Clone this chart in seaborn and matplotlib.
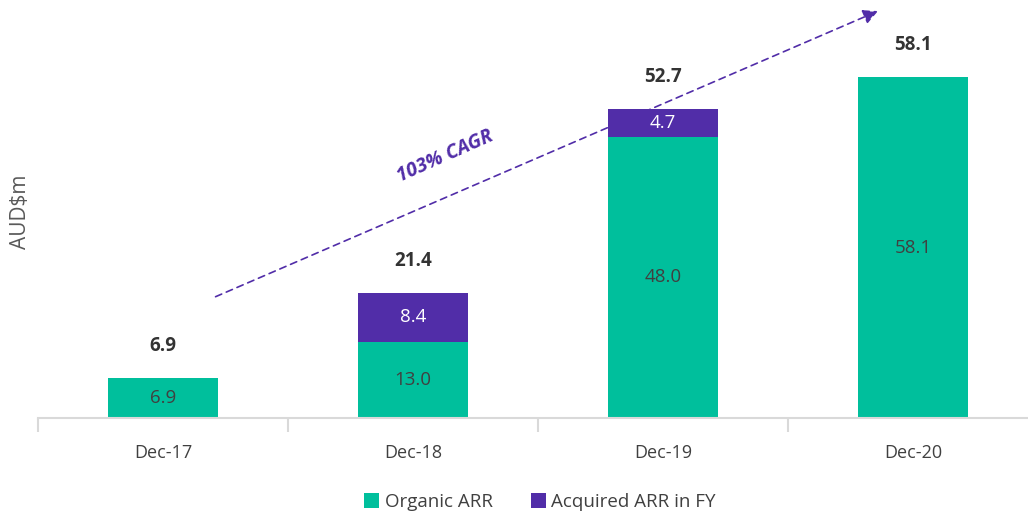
import matplotlib
matplotlib.use("Agg")
import matplotlib.pyplot as plt
import seaborn as sns
import pandas as pd

categories = ["Dec-17", "Dec-18", "Dec-19", "Dec-20"]
organic = [6.9, 13.0, 48.0, 58.1]
acquired = [0.0, 8.4, 4.7, 0.0]
totals = [6.9, 21.4, 52.7, 58.1]
cagr_label = "103% CAGR"
arrow_start = (0.2, 20.5)
arrow_end = (2.87, 69.6)

TEAL = "#00BF9C"
PURPLE = "#512DA8"
DARK = "#404040"

sns.set_theme(style="white")
plt.rcParams["font.family"] = ["Open Sans", "DejaVu Sans"]

fig = plt.figure(figsize=(10.28, 5.19), dpi=100)
ax = fig.add_axes([38/1028, 101/519, 1000/1028, 418/519])

df = pd.DataFrame({"cat": categories, "organic": organic, "acquired": acquired})
sns.barplot(data=df, x="cat", y="organic", color=TEAL, width=0.44, ax=ax,
            saturation=1, label="Organic ARR", linewidth=0)
sns.barplot(data=df, x="cat", y="acquired", color=PURPLE, width=0.44, ax=ax,
            saturation=1, bottom=df["organic"], label="Acquired ARR in FY", linewidth=0)
handles, labels = ax.get_legend_handles_labels()
if ax.get_legend() is not None:
    ax.get_legend().remove()

ax.set_xlim(-0.5, 3.5)
ax.set_ylim(0, 71.3)
ax.set_xlabel("")
ax.set_ylabel("")
ax.set_yticks([])
for s in ["top", "right", "left"]:
    ax.spines[s].set_visible(False)
ax.spines["bottom"].set_color("#D9D9D9")
ax.spines["bottom"].set_linewidth(1.5)
ax.set_xticks(range(len(categories)))
ax.set_xticklabels(categories, fontsize=13, color=DARK)
ax.tick_params(axis="x", which="major", length=0, pad=19)
ax.set_xticks([-0.5, 0.5, 1.5, 2.5], minor=True)
ax.tick_params(axis="x", which="minor", bottom=True, length=10, width=1.5,
               color="#D9D9D9", direction="out")

for i, (o, a, t) in enumerate(zip(organic, acquired, totals)):
    ax.text(i, o / 2, f"{o:.1f}", ha="center", va="center", fontsize=13.5, color=DARK)
    if a > 0:
        ax.text(i, o + a / 2, f"{a:.1f}", ha="center", va="center", fontsize=13.5, color="white")
    ax.annotate(f"{t:.1f}", (i, t), xytext=(0, 23), textcoords="offset points",
                ha="center", va="center", fontsize=13.5, fontweight="bold", color="#333333")

ax.annotate("", xy=arrow_end, xytext=arrow_start,
            arrowprops=dict(arrowstyle="-|>", linestyle=(0, (4, 3)), color=PURPLE,
                            lw=1.2, mutation_scale=22), zorder=5)
ax.text(1.13, 44.6, cagr_label, rotation=24, ha="center", va="center",
        fontsize=14, fontweight="bold", fontstyle="italic", color=PURPLE)

fig.text(20/1028, 1 - 212/519, "AUD$m", rotation=90, ha="center", va="center",
         fontsize=15, color="#595959")

fig.legend(handles, labels, loc="center", bbox_to_anchor=(540/1028, 1 - 502/519),
           ncol=2, frameon=False, fontsize=13.5, handlelength=0.8, handleheight=0.9,
           columnspacing=2.0, handletextpad=0.3, labelcolor=DARK)

fig.savefig("out.png", dpi=100)
